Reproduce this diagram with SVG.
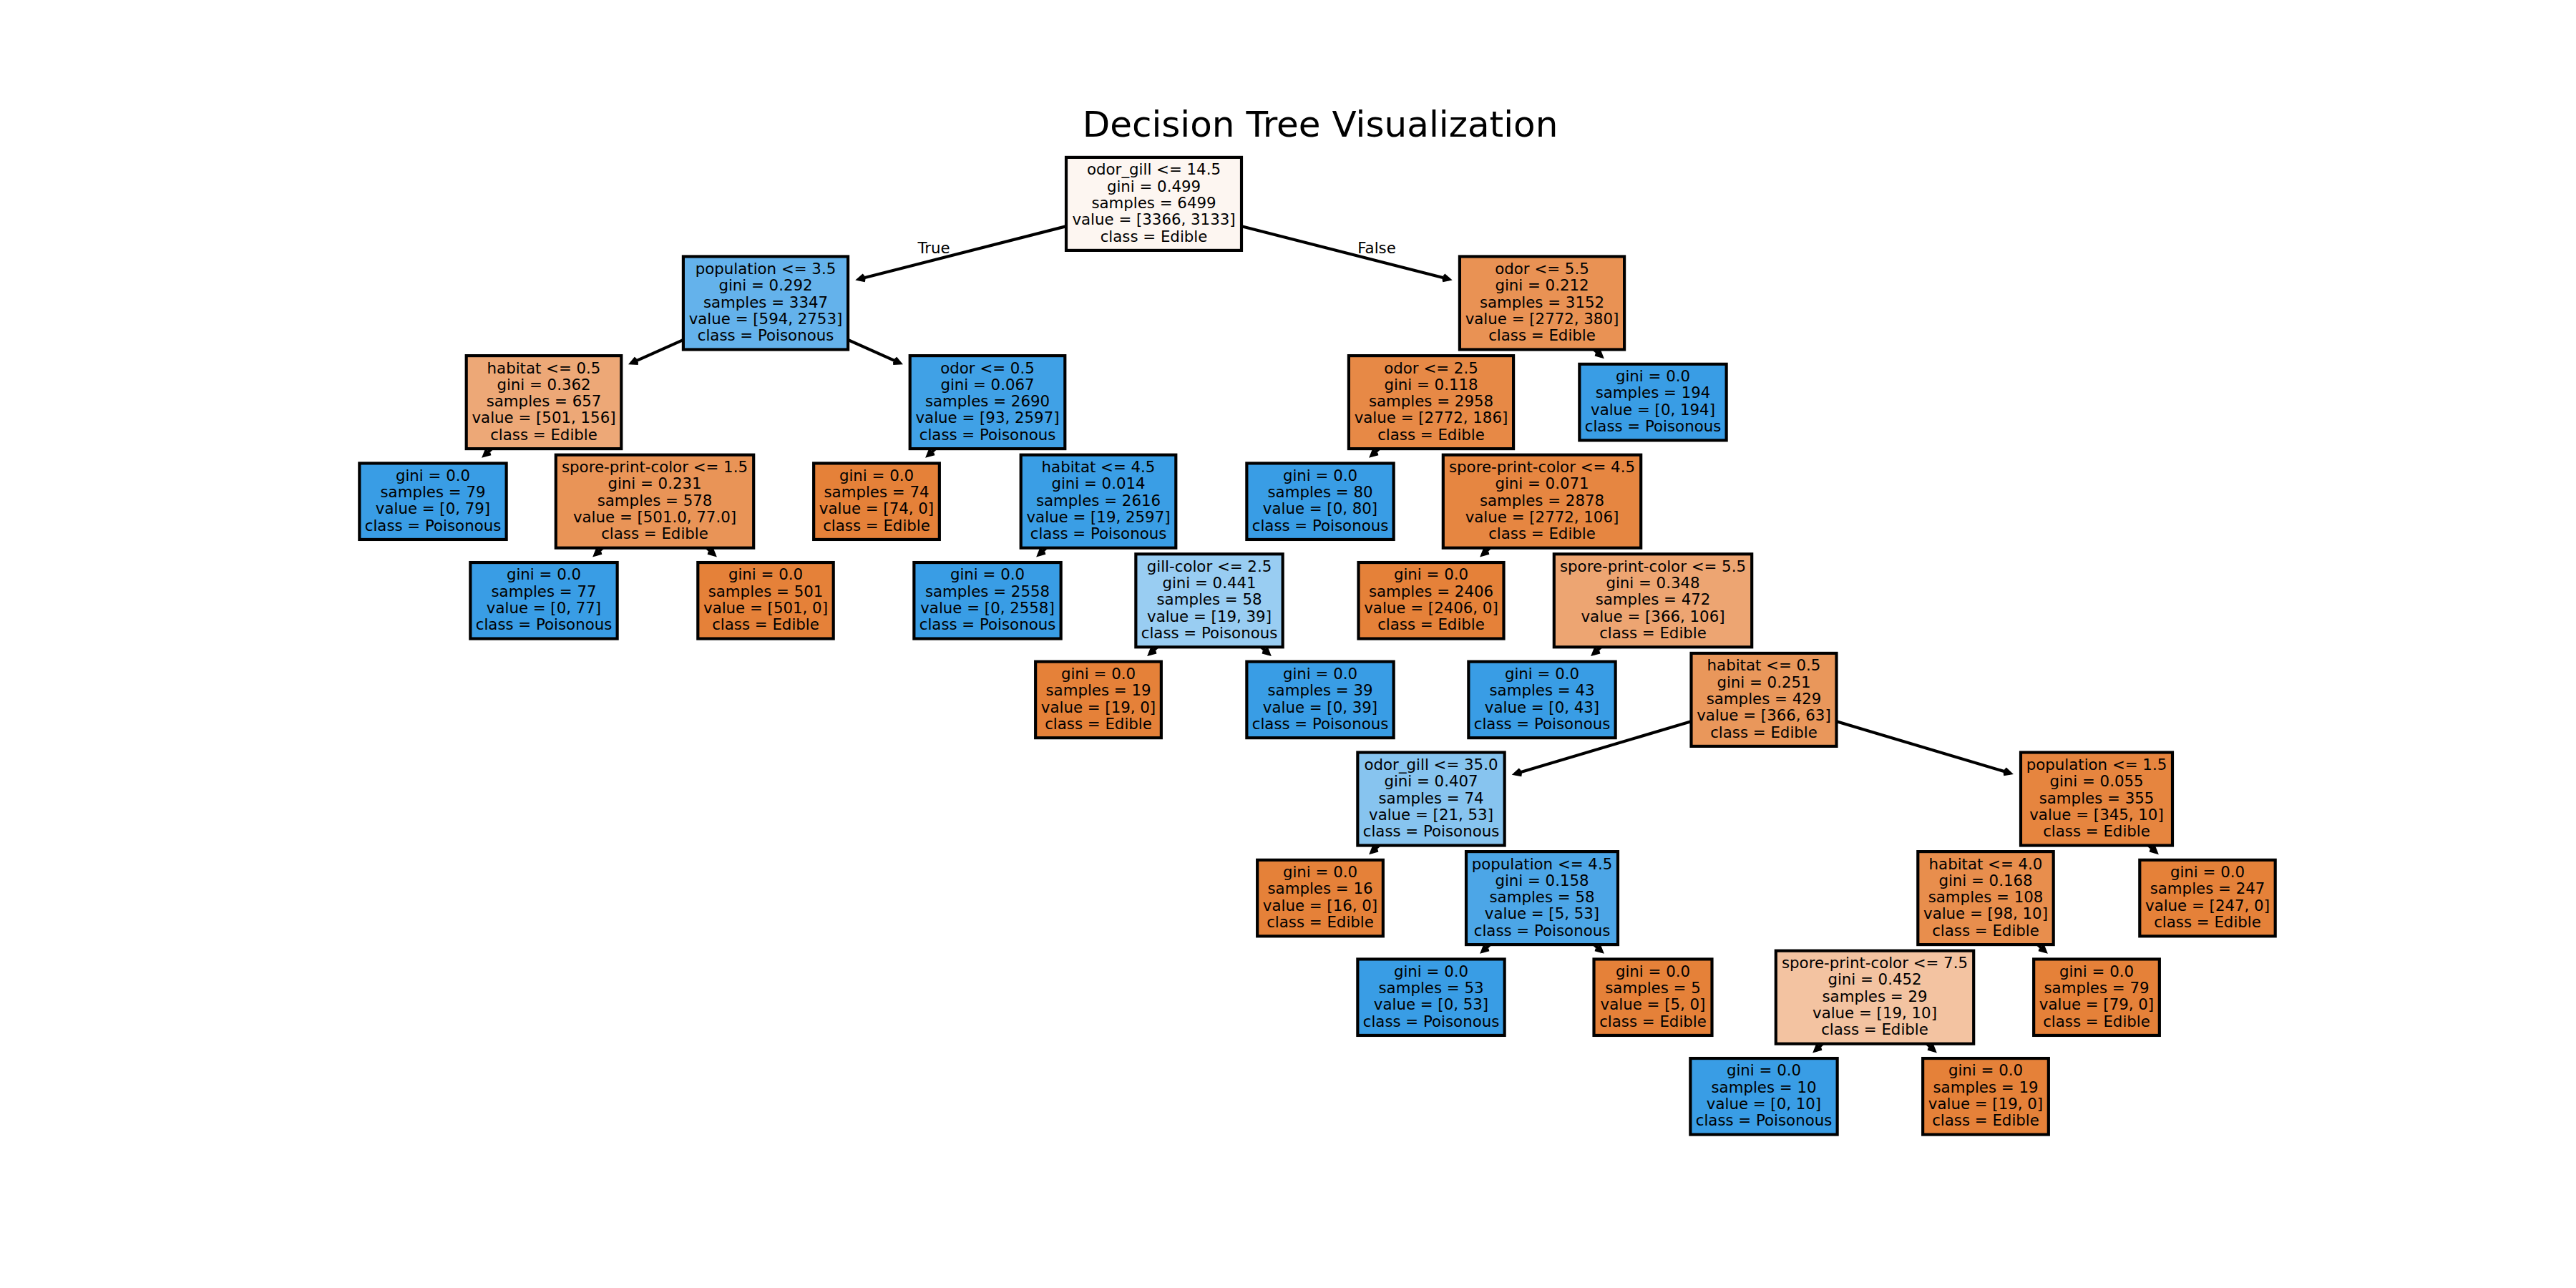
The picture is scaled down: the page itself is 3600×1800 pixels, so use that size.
<svg xmlns="http://www.w3.org/2000/svg" width="3600" height="1800" viewBox="0 0 3600 1800">
<style>
.box{stroke:#000;stroke-width:4.17;stroke-linejoin:miter}
.o{fill:#e58139}
.b{fill:#399de5}
.t{font-family:"DejaVu Sans","Liberation Sans",sans-serif;font-size:21.3px;text-anchor:middle;fill:#000}
.lbl{font-family:"DejaVu Sans","Liberation Sans",sans-serif;font-size:21.3px;fill:#000}
.title{font-family:"DejaVu Sans","Liberation Sans",sans-serif;font-size:50px;text-anchor:middle;fill:#000}
.e{stroke:#000;stroke-width:4.17;fill:none}
</style>
<defs>
<marker id="ah" markerUnits="userSpaceOnUse" orient="auto-start-reverse" refX="0" refY="0" markerWidth="40" markerHeight="40" overflow="visible">
<path d="M -8.56 -4.28 L 0 0 L -8.56 4.28" fill="none" stroke="#000" stroke-width="4.17" stroke-linejoin="miter" stroke-linecap="butt"/>
</marker>
</defs>
<rect width="3600" height="1800" fill="#fff"/>
<text class="title" x="1845" y="191">Decision Tree Visualization</text>
<g id="connectors">
<line class="e" marker-start="url(#ah)" x1="1199.8" y1="390.3" x2="1612.5" y2="284.9"/>
<line class="e" marker-start="url(#ah)" x1="2025.2" y1="390.3" x2="1612.5" y2="284.9"/>
<line class="e" marker-start="url(#ah)" x1="882.3" y1="507.4" x2="1070" y2="423.5"/>
<line class="e" marker-start="url(#ah)" x1="1257.7" y1="507.4" x2="1070" y2="423.5"/>
<line class="e" marker-start="url(#ah)" x1="2084.7" y1="486.3" x2="2155" y2="423.5"/>
<line class="e" marker-start="url(#ah)" x1="2238.4" y1="498.1" x2="2155" y2="423.5"/>
<line class="e" marker-start="url(#ah)" x1="676.6" y1="636.7" x2="760" y2="562.1"/>
<line class="e" marker-start="url(#ah)" x1="830.3" y1="624.9" x2="760" y2="562.1"/>
<line class="e" marker-start="url(#ah)" x1="1296.6" y1="636.7" x2="1380" y2="562.1"/>
<line class="e" marker-start="url(#ah)" x1="1450.3" y1="624.9" x2="1380" y2="562.1"/>
<line class="e" marker-start="url(#ah)" x1="1916.6" y1="636.7" x2="2000" y2="562.1"/>
<line class="e" marker-start="url(#ah)" x1="2070.3" y1="624.9" x2="2000" y2="562.1"/>
<line class="e" marker-start="url(#ah)" x1="831.6" y1="775.3" x2="915" y2="700.7"/>
<line class="e" marker-start="url(#ah)" x1="998.4" y1="775.3" x2="915" y2="700.7"/>
<line class="e" marker-start="url(#ah)" x1="1451.6" y1="775.3" x2="1535" y2="700.7"/>
<line class="e" marker-start="url(#ah)" x1="1605.3" y1="763.5" x2="1535" y2="700.7"/>
<line class="e" marker-start="url(#ah)" x1="2071.6" y1="775.3" x2="2155" y2="700.7"/>
<line class="e" marker-start="url(#ah)" x1="2225.3" y1="763.5" x2="2155" y2="700.7"/>
<line class="e" marker-start="url(#ah)" x1="1606.6" y1="913.9" x2="1690" y2="839.3"/>
<line class="e" marker-start="url(#ah)" x1="1773.4" y1="913.9" x2="1690" y2="839.3"/>
<line class="e" marker-start="url(#ah)" x1="2226.6" y1="913.9" x2="2310" y2="839.3"/>
<line class="e" marker-start="url(#ah)" x1="2380.3" y1="902.1" x2="2310" y2="839.3"/>
<line class="e" marker-start="url(#ah)" x1="2117.2" y1="1081.5" x2="2465" y2="977.9"/>
<line class="e" marker-start="url(#ah)" x1="2809.4" y1="1080.6" x2="2465" y2="977.9"/>
<line class="e" marker-start="url(#ah)" x1="1916.6" y1="1191.1" x2="2000" y2="1116.5"/>
<line class="e" marker-start="url(#ah)" x1="2070.3" y1="1179.3" x2="2000" y2="1116.5"/>
<line class="e" marker-start="url(#ah)" x1="2859.7" y1="1179.3" x2="2930" y2="1116.5"/>
<line class="e" marker-start="url(#ah)" x1="3013.4" y1="1191.1" x2="2930" y2="1116.5"/>
<line class="e" marker-start="url(#ah)" x1="2071.6" y1="1329.7" x2="2155" y2="1255.1"/>
<line class="e" marker-start="url(#ah)" x1="2238.4" y1="1329.7" x2="2155" y2="1255.1"/>
<line class="e" marker-start="url(#ah)" x1="2704.7" y1="1317.9" x2="2775" y2="1255.1"/>
<line class="e" marker-start="url(#ah)" x1="2858.4" y1="1329.7" x2="2775" y2="1255.1"/>
<line class="e" marker-start="url(#ah)" x1="2536.6" y1="1468.3" x2="2620" y2="1393.7"/>
<line class="e" marker-start="url(#ah)" x1="2703.4" y1="1468.3" x2="2620" y2="1393.7"/>
<text class="lbl" x="1327.7" y="354.2" text-anchor="end">True</text>
<text class="lbl" x="1897.3" y="354.2">False</text>
</g>
<g id="nodes">
<g id="n35"><rect class="box o" x="2687.15" y="1479.05" width="175.7" height="106.5"/><text class="t" x="2775" y="1503.35">gini = 0.0<tspan x="2775" dy="23.3">samples = 19</tspan><tspan x="2775" dy="23.3">value = [19, 0]</tspan><tspan x="2775" dy="23.3">class = Edible</tspan></text></g>
<g id="n34"><rect class="box b" x="2362.35" y="1479.05" width="205.3" height="106.5"/><text class="t" x="2465" y="1503.35">gini = 0.0<tspan x="2465" dy="23.3">samples = 10</tspan><tspan x="2465" dy="23.3">value = [0, 10]</tspan><tspan x="2465" dy="23.3">class = Poisonous</tspan></text></g>
<g id="n33"><rect class="box o" x="2842.15" y="1340.45" width="175.7" height="106.5"/><text class="t" x="2930" y="1364.75">gini = 0.0<tspan x="2930" dy="23.3">samples = 79</tspan><tspan x="2930" dy="23.3">value = [79, 0]</tspan><tspan x="2930" dy="23.3">class = Edible</tspan></text></g>
<g id="n32"><rect class="box" fill="#f3c3a1" x="2481.8" y="1328.7" width="276.4" height="130"/><text class="t" x="2620" y="1353.1">spore-print-color &lt;= 7.5<tspan x="2620" dy="23.3">gini = 0.452</tspan><tspan x="2620" dy="23.3">samples = 29</tspan><tspan x="2620" dy="23.3">value = [19, 10]</tspan><tspan x="2620" dy="23.3">class = Edible</tspan></text></g>
<g id="n31"><rect class="box o" x="2227.5" y="1340.45" width="165" height="106.5"/><text class="t" x="2310" y="1364.75">gini = 0.0<tspan x="2310" dy="23.3">samples = 5</tspan><tspan x="2310" dy="23.3">value = [5, 0]</tspan><tspan x="2310" dy="23.3">class = Edible</tspan></text></g>
<g id="n30"><rect class="box b" x="1897.35" y="1340.45" width="205.3" height="106.5"/><text class="t" x="2000" y="1364.75">gini = 0.0<tspan x="2000" dy="23.3">samples = 53</tspan><tspan x="2000" dy="23.3">value = [0, 53]</tspan><tspan x="2000" dy="23.3">class = Poisonous</tspan></text></g>
<g id="n29"><rect class="box o" x="2990.3" y="1201.85" width="189.4" height="106.5"/><text class="t" x="3085" y="1226.15">gini = 0.0<tspan x="3085" dy="23.3">samples = 247</tspan><tspan x="3085" dy="23.3">value = [247, 0]</tspan><tspan x="3085" dy="23.3">class = Edible</tspan></text></g>
<g id="n28"><rect class="box" fill="#e88e4d" x="2680.3" y="1190.1" width="189.4" height="130"/><text class="t" x="2775" y="1214.5">habitat &lt;= 4.0<tspan x="2775" dy="23.3">gini = 0.168</tspan><tspan x="2775" dy="23.3">samples = 108</tspan><tspan x="2775" dy="23.3">value = [98, 10]</tspan><tspan x="2775" dy="23.3">class = Edible</tspan></text></g>
<g id="n27"><rect class="box" fill="#4ca6e7" x="2049" y="1190.1" width="212" height="130"/><text class="t" x="2155" y="1214.5">population &lt;= 4.5<tspan x="2155" dy="23.3">gini = 0.158</tspan><tspan x="2155" dy="23.3">samples = 58</tspan><tspan x="2155" dy="23.3">value = [5, 53]</tspan><tspan x="2155" dy="23.3">class = Poisonous</tspan></text></g>
<g id="n26"><rect class="box o" x="1757.15" y="1201.85" width="175.7" height="106.5"/><text class="t" x="1845" y="1226.15">gini = 0.0<tspan x="1845" dy="23.3">samples = 16</tspan><tspan x="1845" dy="23.3">value = [16, 0]</tspan><tspan x="1845" dy="23.3">class = Edible</tspan></text></g>
<g id="n25"><rect class="box" fill="#e6853f" x="2824" y="1051.5" width="212" height="130"/><text class="t" x="2930" y="1075.9">population &lt;= 1.5<tspan x="2930" dy="23.3">gini = 0.055</tspan><tspan x="2930" dy="23.3">samples = 355</tspan><tspan x="2930" dy="23.3">value = [345, 10]</tspan><tspan x="2930" dy="23.3">class = Edible</tspan></text></g>
<g id="n24"><rect class="box" fill="#87c4ef" x="1897.35" y="1051.5" width="205.3" height="130"/><text class="t" x="2000" y="1075.9">odor_gill &lt;= 35.0<tspan x="2000" dy="23.3">gini = 0.407</tspan><tspan x="2000" dy="23.3">samples = 74</tspan><tspan x="2000" dy="23.3">value = [21, 53]</tspan><tspan x="2000" dy="23.3">class = Poisonous</tspan></text></g>
<g id="n23"><rect class="box" fill="#e9975b" x="2363.5" y="912.9" width="203" height="130"/><text class="t" x="2465" y="937.3">habitat &lt;= 0.5<tspan x="2465" dy="23.3">gini = 0.251</tspan><tspan x="2465" dy="23.3">samples = 429</tspan><tspan x="2465" dy="23.3">value = [366, 63]</tspan><tspan x="2465" dy="23.3">class = Edible</tspan></text></g>
<g id="n22"><rect class="box b" x="2052.35" y="924.65" width="205.3" height="106.5"/><text class="t" x="2155" y="948.95">gini = 0.0<tspan x="2155" dy="23.3">samples = 43</tspan><tspan x="2155" dy="23.3">value = [0, 43]</tspan><tspan x="2155" dy="23.3">class = Poisonous</tspan></text></g>
<g id="n21"><rect class="box b" x="1742.35" y="924.65" width="205.3" height="106.5"/><text class="t" x="1845" y="948.95">gini = 0.0<tspan x="1845" dy="23.3">samples = 39</tspan><tspan x="1845" dy="23.3">value = [0, 39]</tspan><tspan x="1845" dy="23.3">class = Poisonous</tspan></text></g>
<g id="n20"><rect class="box o" x="1447.15" y="924.65" width="175.7" height="106.5"/><text class="t" x="1535" y="948.95">gini = 0.0<tspan x="1535" dy="23.3">samples = 19</tspan><tspan x="1535" dy="23.3">value = [19, 0]</tspan><tspan x="1535" dy="23.3">class = Edible</tspan></text></g>
<g id="n19"><rect class="box" fill="#eda572" x="2171.8" y="774.3" width="276.4" height="130"/><text class="t" x="2310" y="798.7">spore-print-color &lt;= 5.5<tspan x="2310" dy="23.3">gini = 0.348</tspan><tspan x="2310" dy="23.3">samples = 472</tspan><tspan x="2310" dy="23.3">value = [366, 106]</tspan><tspan x="2310" dy="23.3">class = Edible</tspan></text></g>
<g id="n18"><rect class="box o" x="1898.5" y="786.05" width="203" height="106.5"/><text class="t" x="2000" y="810.35">gini = 0.0<tspan x="2000" dy="23.3">samples = 2406</tspan><tspan x="2000" dy="23.3">value = [2406, 0]</tspan><tspan x="2000" dy="23.3">class = Edible</tspan></text></g>
<g id="n17"><rect class="box" fill="#99cdf2" x="1587.35" y="774.3" width="205.3" height="130"/><text class="t" x="1690" y="798.7">gill-color &lt;= 2.5<tspan x="1690" dy="23.3">gini = 0.441</tspan><tspan x="1690" dy="23.3">samples = 58</tspan><tspan x="1690" dy="23.3">value = [19, 39]</tspan><tspan x="1690" dy="23.3">class = Poisonous</tspan></text></g>
<g id="n16"><rect class="box b" x="1277.35" y="786.05" width="205.3" height="106.5"/><text class="t" x="1380" y="810.35">gini = 0.0<tspan x="1380" dy="23.3">samples = 2558</tspan><tspan x="1380" dy="23.3">value = [0, 2558]</tspan><tspan x="1380" dy="23.3">class = Poisonous</tspan></text></g>
<g id="n15"><rect class="box o" x="975.3" y="786.05" width="189.4" height="106.5"/><text class="t" x="1070" y="810.35">gini = 0.0<tspan x="1070" dy="23.3">samples = 501</tspan><tspan x="1070" dy="23.3">value = [501, 0]</tspan><tspan x="1070" dy="23.3">class = Edible</tspan></text></g>
<g id="n14"><rect class="box b" x="657.35" y="786.05" width="205.3" height="106.5"/><text class="t" x="760" y="810.35">gini = 0.0<tspan x="760" dy="23.3">samples = 77</tspan><tspan x="760" dy="23.3">value = [0, 77]</tspan><tspan x="760" dy="23.3">class = Poisonous</tspan></text></g>
<g id="n13"><rect class="box" fill="#e68641" x="2016.8" y="635.7" width="276.4" height="130"/><text class="t" x="2155" y="660.1">spore-print-color &lt;= 4.5<tspan x="2155" dy="23.3">gini = 0.071</tspan><tspan x="2155" dy="23.3">samples = 2878</tspan><tspan x="2155" dy="23.3">value = [2772, 106]</tspan><tspan x="2155" dy="23.3">class = Edible</tspan></text></g>
<g id="n12"><rect class="box b" x="1742.35" y="647.45" width="205.3" height="106.5"/><text class="t" x="1845" y="671.75">gini = 0.0<tspan x="1845" dy="23.3">samples = 80</tspan><tspan x="1845" dy="23.3">value = [0, 80]</tspan><tspan x="1845" dy="23.3">class = Poisonous</tspan></text></g>
<g id="n11"><rect class="box" fill="#3a9ee5" x="1426.7" y="635.7" width="216.6" height="130"/><text class="t" x="1535" y="660.1">habitat &lt;= 4.5<tspan x="1535" dy="23.3">gini = 0.014</tspan><tspan x="1535" dy="23.3">samples = 2616</tspan><tspan x="1535" dy="23.3">value = [19, 2597]</tspan><tspan x="1535" dy="23.3">class = Poisonous</tspan></text></g>
<g id="n10"><rect class="box o" x="1137.15" y="647.45" width="175.7" height="106.5"/><text class="t" x="1225" y="671.75">gini = 0.0<tspan x="1225" dy="23.3">samples = 74</tspan><tspan x="1225" dy="23.3">value = [74, 0]</tspan><tspan x="1225" dy="23.3">class = Edible</tspan></text></g>
<g id="n9"><rect class="box" fill="#e99457" x="776.8" y="635.7" width="276.4" height="130"/><text class="t" x="915" y="660.1">spore-print-color &lt;= 1.5<tspan x="915" dy="23.3">gini = 0.231</tspan><tspan x="915" dy="23.3">samples = 578</tspan><tspan x="915" dy="23.3">value = [501.0, 77.0]</tspan><tspan x="915" dy="23.3">class = Edible</tspan></text></g>
<g id="n8"><rect class="box b" x="502.35" y="647.45" width="205.3" height="106.5"/><text class="t" x="605" y="671.75">gini = 0.0<tspan x="605" dy="23.3">samples = 79</tspan><tspan x="605" dy="23.3">value = [0, 79]</tspan><tspan x="605" dy="23.3">class = Poisonous</tspan></text></g>
<g id="n7"><rect class="box b" x="2207.35" y="508.85" width="205.3" height="106.5"/><text class="t" x="2310" y="533.15">gini = 0.0<tspan x="2310" dy="23.3">samples = 194</tspan><tspan x="2310" dy="23.3">value = [0, 194]</tspan><tspan x="2310" dy="23.3">class = Poisonous</tspan></text></g>
<g id="n6"><rect class="box" fill="#e78946" x="1884.9" y="497.1" width="230.2" height="130"/><text class="t" x="2000" y="521.5">odor &lt;= 2.5<tspan x="2000" dy="23.3">gini = 0.118</tspan><tspan x="2000" dy="23.3">samples = 2958</tspan><tspan x="2000" dy="23.3">value = [2772, 186]</tspan><tspan x="2000" dy="23.3">class = Edible</tspan></text></g>
<g id="n5"><rect class="box" fill="#40a1e6" x="1271.7" y="497.1" width="216.6" height="130"/><text class="t" x="1380" y="521.5">odor &lt;= 0.5<tspan x="1380" dy="23.3">gini = 0.067</tspan><tspan x="1380" dy="23.3">samples = 2690</tspan><tspan x="1380" dy="23.3">value = [93, 2597]</tspan><tspan x="1380" dy="23.3">class = Poisonous</tspan></text></g>
<g id="n4"><rect class="box" fill="#eda877" x="651.7" y="497.1" width="216.6" height="130"/><text class="t" x="760" y="521.5">habitat &lt;= 0.5<tspan x="760" dy="23.3">gini = 0.362</tspan><tspan x="760" dy="23.3">samples = 657</tspan><tspan x="760" dy="23.3">value = [501, 156]</tspan><tspan x="760" dy="23.3">class = Edible</tspan></text></g>
<g id="n3"><rect class="box" fill="#e99254" x="2039.9" y="358.5" width="230.2" height="130"/><text class="t" x="2155" y="382.9">odor &lt;= 5.5<tspan x="2155" dy="23.3">gini = 0.212</tspan><tspan x="2155" dy="23.3">samples = 3152</tspan><tspan x="2155" dy="23.3">value = [2772, 380]</tspan><tspan x="2155" dy="23.3">class = Edible</tspan></text></g>
<g id="n2"><rect class="box" fill="#64b2eb" x="954.9" y="358.5" width="230.2" height="130"/><text class="t" x="1070" y="382.9">population &lt;= 3.5<tspan x="1070" dy="23.3">gini = 0.292</tspan><tspan x="1070" dy="23.3">samples = 3347</tspan><tspan x="1070" dy="23.3">value = [594, 2753]</tspan><tspan x="1070" dy="23.3">class = Poisonous</tspan></text></g>
<g id="n1"><rect class="box" fill="#fdf6f1" x="1490" y="219.9" width="245" height="130"/><text class="t" x="1612.5" y="244.3">odor_gill &lt;= 14.5<tspan x="1612.5" dy="23.3">gini = 0.499</tspan><tspan x="1612.5" dy="23.3">samples = 6499</tspan><tspan x="1612.5" dy="23.3">value = [3366, 3133]</tspan><tspan x="1612.5" dy="23.3">class = Edible</tspan></text></g>
</g>
</svg>
